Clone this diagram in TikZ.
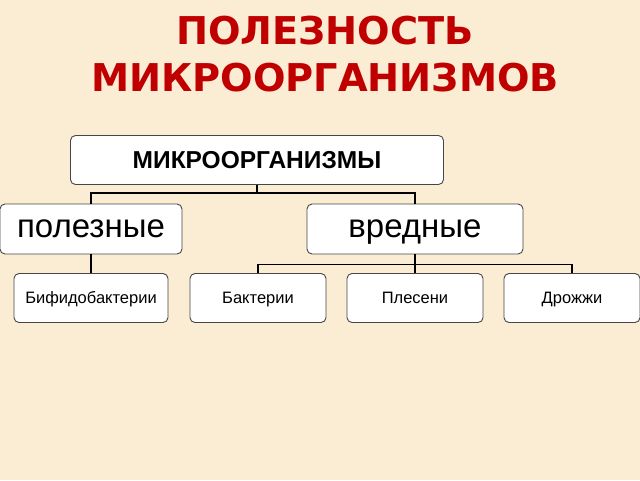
\documentclass[tikz,border=0pt]{standalone}
\usepackage{fontspec}
\setmainfont{Liberation Sans}
\newfontfamily\titlefont{DejaVu Sans}
\definecolor{parchment}{RGB}{250,237,211}
\definecolor{titlered}{RGB}{192,0,0}
\definecolor{boxline}{RGB}{70,70,70}
\tikzstyle{group} = [rectangle, rounded corners=5pt, draw=boxline, line width=0.9pt, fill=white, text centered, minimum height=49pt, text depth=0pt]
\tikzstyle{branch} = [group, minimum height=50pt, font=\fontsize{33}{36}\selectfont, text height=17pt]
\tikzstyle{kind} = [group, minimum width=136pt, font=\fontsize{16.5}{18}\selectfont, text height=11.8pt]
\tikzstyle{link} = [line width=1.6pt, black]

\begin{document}
\begin{tikzpicture}[x=1pt, y=1pt, node distance=69pt]
        \fill[parchment] (0,0) rectangle (640,-480);
        \useasboundingbox (0,0) rectangle (640,-480);

        \node[titlered, font=\titlefont\bfseries\fontsize{38.3}{47}\selectfont, align=center] (title) at (325,-54) {ПОЛЕЗНОСТЬ\\МИКРООРГАНИЗМОВ};

        \node[group, minimum width=373pt, font=\bfseries\fontsize{24.5}{26}\selectfont, text height=17.5pt] (micro) at (257,-160) {МИКРООРГАНИЗМЫ};
        \node[branch, minimum width=182pt, below of=micro, xshift=-166pt] (useful) {полезные};
        \node[branch, minimum width=216pt, below of=micro, xshift=158pt] (harmful) {вредные};
        \node[kind, minimum width=154pt, below of=useful] (bifido) {Бифидобактерии};
        \node[kind, below of=harmful, xshift=-157pt] (bact) {Бактерии};
        \node[kind, below of=harmful] (mould) {Плесени};
        \node[kind, below of=harmful, xshift=157pt] (yeast) {Дрожжи};

        \draw [link] (micro.south) -- ++(0,-8) -| (useful.north);
        \draw [link] (micro.south) -- ++(0,-8) -| (harmful.north);
        \draw [link] (useful.south) -- (bifido.north);
        \draw [link] (harmful.south) -- ++(0,-10) -| (bact.north);
        \draw [link] (harmful.south) -- (mould.north);
        \draw [link] (harmful.south) -- ++(0,-10) -| (yeast.north);
    \end{tikzpicture}
\end{document}
